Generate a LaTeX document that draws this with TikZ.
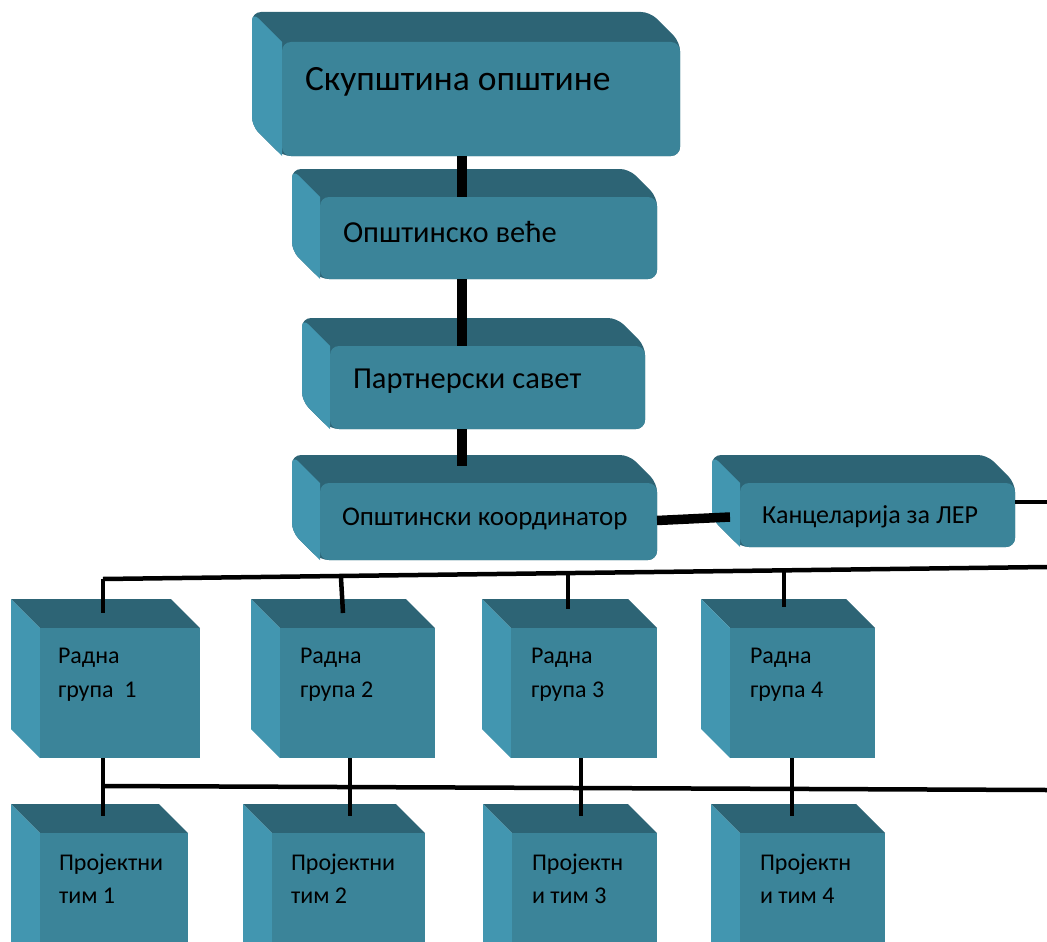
\documentclass[tikz,border=0pt]{standalone}
\usepackage{fontspec}
\setmainfont{Carlito}
\definecolor{frontc}{RGB}{59,132,153}
\definecolor{topc}{RGB}{45,100,117}
\definecolor{leftc}{RGB}{66,150,176}
\tikzset{
  face/.style={fill=frontc, draw=none, inner sep=0pt, outer sep=0pt, anchor=north west},
  bevelface/.style={face, rounded corners=9pt},
  lbl/.style={inner sep=0pt, outer sep=0pt, anchor=base west, text=black, align=left},
  thickline/.style={line width=9.5pt, black},
  busline/.style={line width=4.5pt, black},
}
% #1 name, #2 x1, #3 y1, #4 x2, #5 y2, #6 depth
\newcommand\bevelbox[6]{%
  \fill[topc, rounded corners=9pt] (#2-#6,#3-#6) -- (#4-#6,#3-#6) -- (#4,#3) -- (#4,#5) -- (#2,#5) -- (#2-#6,#5-#6) -- cycle;
  \fill[leftc] (#2,#3) [rounded corners=9pt] -- (#2-#6,#3-#6) -- (#2-#6,#5-#6) [sharp corners] -- (#2,#5) -- cycle;
  \node[bevelface, minimum width=#4-#2, minimum height=#5-#3] (#1) at (#2,#3) {};
}
\newcommand\cubebox[6]{%
  \fill[topc] (#2-#6,#3-#6) -- (#4-#6,#3-#6) -- (#4,#3) -- (#2,#3) -- cycle;
  \fill[leftc] (#2,#3) -- (#2-#6,#3-#6) -- (#2-#6,#5-#6) -- (#2,#5) -- cycle;
  \node[face, minimum width=#4-#2, minimum height=#5-#3] (#1) at (#2,#3) {};
}
\begin{document}
\begin{tikzpicture}[x=1pt, y=-1pt]
\useasboundingbox (0,0) rectangle (1047,942);
\clip (0,0) rectangle (1047,942);

% top chain
\bevelbox{sk}{282}{42}{680}{156}{30}
\node[lbl, font=\fontsize{35.5}{40}\selectfont] (skt) at (305,90) {Скупштина општине};

\bevelbox{ve}{320}{197}{657}{279}{28}
\node[lbl, font=\fontsize{30.5}{35}\selectfont] (vet) at (343,242) {Општинско веће};

\bevelbox{pa}{330}{346}{645}{429}{28}
\node[lbl, font=\fontsize{30.5}{35}\selectfont] (pat) at (353,388) {Партнерски савет};

\bevelbox{ko}{320}{483}{657}{560}{28}
\node[lbl, font=\fontsize{27}{32}\selectfont] (kot) at (342,525) {Општински координатор};

\bevelbox{ka}{740}{483}{1015}{547}{28}
\node[lbl, font=\fontsize{26}{30}\selectfont] (kat) at (762,523) {Канцеларија за ЛЕР};

% working groups
\cubebox{rg1}{40}{628}{200}{758}{29}
\cubebox{rg2}{280}{628}{435}{758}{29}
\cubebox{rg3}{511}{628}{657}{758}{29}
\cubebox{rg4}{730}{628}{875}{758}{29}
\node[lbl, font=\fontsize{24}{34}\selectfont] (rg1t) at (58,697) {Радна\\група\ \ 1};
\node[lbl, font=\fontsize{24}{34}\selectfont] (rg2t) at (300,697) {Радна\\група 2};
\node[lbl, font=\fontsize{24}{34}\selectfont] (rg3t) at (531,697) {Радна\\група 3};
\node[lbl, font=\fontsize{24}{34}\selectfont] (rg4t) at (750,697) {Радна\\група 4};

% project teams
\cubebox{pt1}{40}{833}{188}{990}{29}
\cubebox{pt2}{272}{833}{425}{990}{29}
\cubebox{pt3}{512}{833}{657}{990}{29}
\cubebox{pt4}{740}{833}{885}{990}{29}
\node[lbl, font=\fontsize{24}{33}\selectfont] (pt1t) at (59,903) {Пројектни\\тим 1};
\node[lbl, font=\fontsize{24}{33}\selectfont] (pt2t) at (291,903) {Пројектни\\тим 2};
\node[lbl, font=\fontsize{24}{33}\selectfont] (pt3t) at (532,903) {Пројектн\\и тим 3};
\node[lbl, font=\fontsize{24}{33}\selectfont] (pt4t) at (760,903) {Пројектн\\и тим 4};

% connectors in the top chain
\coordinate (cx) at (462,0);
\draw[thickline] (sk.south -| cx) -- (ve.north -| cx);
\draw[thickline] (ve.south -| cx) -- (pa.north -| cx);
\draw[thickline] (pa.south -| cx) -- ([yshift=17pt]ko.north -| cx);
\draw[thickline] ([yshift=1pt]ko.east) -- ([yshift=-2pt,xshift=-10pt]ka.west);
\coordinate (kaend) at (1047,502);
\draw[black, line width=4pt] (ka.east |- kaend) -- (kaend);

% upper bus
\coordinate (b1l) at (103,579);
\coordinate (b1r) at (1047,567);
\draw[busline] (b1l) -- (b1r);
\draw[busline] (b1l) -- ([yshift=15pt]rg1.north -| b1l);
\draw[busline] (341,578) -- ([yshift=15pt]rg2.north -| 343,0);
\draw[busline] (568,573) -- ([yshift=19pt]rg3.north -| 568,0);
\draw[busline] (784,571) -- ([yshift=21pt]rg4.north -| 784,0);

% lower bus
\coordinate (b2l) at (103,786);
\coordinate (b2r) at (1047,790);
\draw[busline] (b2l) -- (b2r);
\draw[busline] (rg1.south -| 103,0) -- ([yshift=17pt]pt1.north -| 103,0);
\draw[busline] (rg2.south -| 350,0) -- ([yshift=17pt]pt2.north -| 350,0);
\draw[busline] (rg3.south -| 581,0) -- ([yshift=17pt]pt3.north -| 581,0);
\draw[busline] (rg4.south -| 792,0) -- ([yshift=17pt]pt4.north -| 792,0);
\end{tikzpicture}
\end{document}
